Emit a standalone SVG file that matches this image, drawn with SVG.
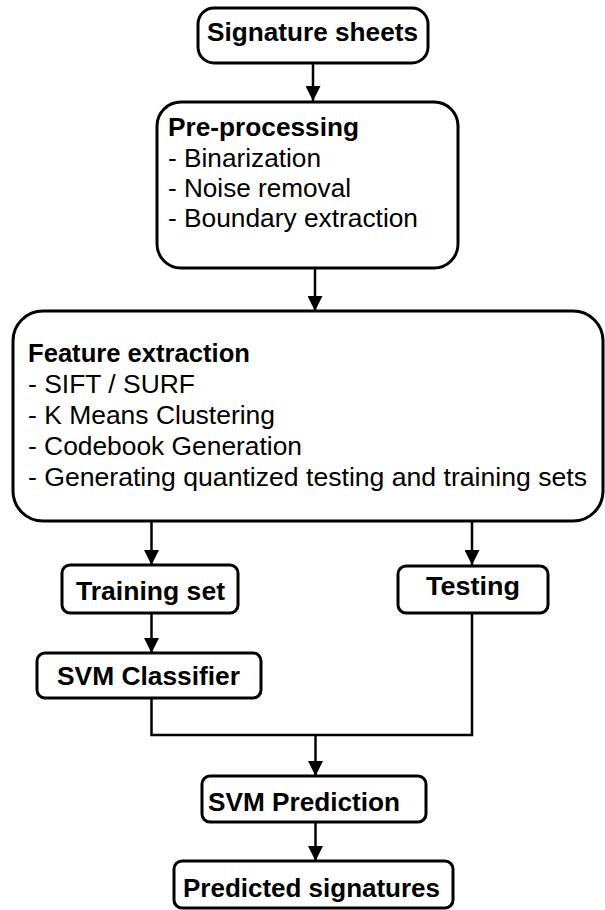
<svg xmlns="http://www.w3.org/2000/svg" width="605" height="910" viewBox="0 0 605 910">
<style>
.box{fill:#fff;stroke:#000;stroke-width:3}
.t{font-family:"Liberation Sans",Arial,sans-serif;font-size:25px;fill:#000}
.b{font-weight:bold}
.c{fill:none;stroke:#000;stroke-width:2.5}
</style>
<defs>
<marker id="ah" markerUnits="userSpaceOnUse" markerWidth="15" markerHeight="15" viewBox="0 0 15 15" refX="15" refY="7.5" orient="auto">
<path d="M0,0 L15,7.5 L0,15 z" fill="#000"/>
</marker>
</defs>
<rect width="605" height="910" fill="#fff"/>
<g id="connectors">
<line class="c" x1="313" y1="63" x2="313" y2="101" marker-end="url(#ah)"/>
<line class="c" x1="315" y1="268" x2="315" y2="311" marker-end="url(#ah)"/>
<line class="c" x1="151.5" y1="521" x2="151.5" y2="565" marker-end="url(#ah)"/>
<line class="c" x1="472" y1="521" x2="472" y2="565" marker-end="url(#ah)"/>
<line class="c" x1="151.5" y1="613" x2="151.5" y2="653" marker-end="url(#ah)"/>
<polyline class="c" points="151.5,698 151.5,735 472,735 472,613"/>
<line class="c" x1="315.5" y1="735" x2="315.5" y2="776" marker-end="url(#ah)"/>
<line class="c" x1="315.5" y1="822" x2="315.5" y2="861" marker-end="url(#ah)"/>
</g>
<g id="signature-sheets">
<rect class="box" x="198" y="8" width="230" height="55" rx="16"/>
<text class="t b" x="207" y="41" textLength="211" lengthAdjust="spacingAndGlyphs">Signature sheets</text>
</g>
<g id="pre-processing">
<rect class="box" x="157" y="102" width="301" height="166" rx="24"/>
<text class="t b" x="168" y="136" textLength="191" lengthAdjust="spacingAndGlyphs">Pre-processing</text>
<text class="t" x="168" y="167" textLength="153" lengthAdjust="spacingAndGlyphs">- Binarization</text>
<text class="t" x="168" y="197" textLength="183" lengthAdjust="spacingAndGlyphs">- Noise removal</text>
<text class="t" x="168" y="227" textLength="250" lengthAdjust="spacingAndGlyphs">- Boundary extraction</text>
</g>
<g id="feature-extraction">
<rect class="box" x="13" y="311" width="590" height="210" rx="30"/>
<text class="t b" x="28" y="362" textLength="222" lengthAdjust="spacingAndGlyphs">Feature extraction</text>
<text class="t" x="28" y="393" textLength="167" lengthAdjust="spacingAndGlyphs">- SIFT / SURF</text>
<text class="t" x="28" y="424" textLength="247" lengthAdjust="spacingAndGlyphs">- K Means Clustering</text>
<text class="t" x="28" y="455" textLength="274" lengthAdjust="spacingAndGlyphs">- Codebook Generation</text>
<text class="t" x="28" y="486" textLength="559" lengthAdjust="spacingAndGlyphs">- Generating quantized testing and training sets</text>
</g>
<g id="training-set">
<rect class="box" x="62" y="565" width="176" height="48" rx="8"/>
<text class="t b" x="76" y="600" textLength="149" lengthAdjust="spacingAndGlyphs">Training set</text>
</g>
<g id="testing">
<rect class="box" x="398" y="566" width="150" height="47" rx="8"/>
<text class="t b" x="426" y="595" textLength="94" lengthAdjust="spacingAndGlyphs">Testing</text>
</g>
<g id="svm-classifier">
<rect class="box" x="37" y="653" width="224" height="45" rx="8"/>
<text class="t b" x="57" y="685" textLength="183" lengthAdjust="spacingAndGlyphs">SVM Classifier</text>
</g>
<g id="svm-prediction">
<rect class="box" x="202" y="776" width="224" height="46" rx="8"/>
<text class="t b" x="208" y="811" textLength="192" lengthAdjust="spacingAndGlyphs">SVM Prediction</text>
</g>
<g id="predicted-signatures">
<rect class="box" x="174" y="861" width="279" height="47" rx="8"/>
<text class="t b" x="183" y="897" textLength="257" lengthAdjust="spacingAndGlyphs">Predicted signatures</text>
</g>
</svg>
